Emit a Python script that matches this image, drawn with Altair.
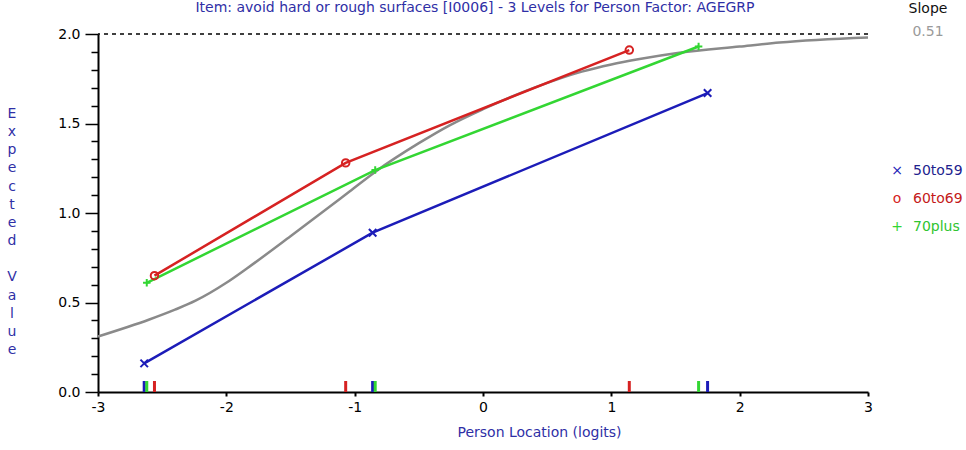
import altair as alt
import pandas as pd

# ---------------- data ----------------
title_text = "Item: avoid hard or rough surfaces [I0006] - 3 Levels for Person Factor: AGEGRP"
x_title = "Person Location (logits)"
y_title = "Expected Value"
slope_label = "Slope"
slope_value = "0.51"

groups = ["50to59", "60to69", "70plus"]
line_colors = ["#1c1cb8", "#d62222", "#33d633"]
label_colors = ["#22228e", "#c41a1a", "#30c430"]
legend_symbols = ["\u00d7", "o", "+"]

x_50to59 = [-2.64, -0.86, 1.75]
y_50to59 = [0.16, 0.89, 1.67]
x_60to69 = [-2.56, -1.07, 1.14]
y_60to69 = [0.65, 1.28, 1.91]
x_70plus = [-2.62, -0.84, 1.68]
y_70plus = [0.61, 1.24, 1.93]

icc_x = [-3.0, -2.6, -2.4, -2.24, -2.0, -1.84, -1.5, -1.04, -0.83, -0.5, -0.26,
         0.0, 0.4, 0.77, 1.0, 1.22, 1.53, 2.0, 2.31, 3.0]
icc_y = [0.31, 0.405, 0.46, 0.51, 0.61, 0.69, 0.87, 1.12, 1.235, 1.39, 1.49,
         1.58, 1.70, 1.79, 1.83, 1.86, 1.895, 1.93, 1.952, 1.98]

x_ticks = [-3, -2, -1, 0, 1, 2, 3]
y_ticks = [0.0, 0.1, 0.2, 0.3, 0.4, 0.5, 0.6, 0.7, 0.8, 0.9, 1.0,
           1.1, 1.2, 1.3, 1.4, 1.5, 1.6, 1.7, 1.8, 1.9, 2.0]
max_score = [2.0]

# ---------------- tables ----------------
grp_rows = []
for g, xs, ys in zip(groups, [x_50to59, x_60to69, x_70plus], [y_50to59, y_60to69, y_70plus]):
    for xv, yv in zip(xs, ys):
        grp_rows.append({"group": g, "x": xv, "y": yv})
grp_df = pd.DataFrame(grp_rows)
icc_df = pd.DataFrame({"x": icc_x, "y": icc_y})
legend_df = pd.DataFrame({"group": groups, "sym": legend_symbols, "lc": label_colors})
ytitle_df = pd.DataFrame({"i": list(range(len(y_title))), "ch": list(y_title)})

FONT = "DejaVu Sans"
BLUE_TXT = "#2f2fa6"

xscale = alt.Scale(domain=[-3, 3], nice=False)
yscale = alt.Scale(domain=[0, 2], nice=False)
cscale = alt.Scale(domain=groups, range=line_colors)

major = "round(datum.value*10) % 5 == 0"
x_axis = alt.Axis(values=x_ticks, labelExpr="'' + datum.value", title=x_title,
                  titleX=441, titleY=40, titleAlign="center", titleBaseline="middle",
                  titleColor=BLUE_TXT, titleFont=FONT, titleFontSize=14, titleFontWeight="normal",
                  labelFont=FONT, labelFontSize=14, labelColor="black", labelPadding=4,
                  tickSize=4, tickWidth=2, tickColor="black", domainColor="black", domainWidth=2,
                  grid=False, labelFlush=False, labelOverlap=False)
y_axis = alt.Axis(values=y_ticks, labelExpr=major + " ? format(datum.value, '.1f') : ''",
                  title=None, labelFont=FONT, labelFontSize=14, labelColor="black", labelPadding=5,
                  tickSize={"condition": {"test": major, "value": 13}, "value": 7},
                  tickWidth=1.5, tickColor="black", domainColor="black", domainWidth=2,
                  grid=False, labelOverlap=False, labelFlush=False)

X = alt.X("x:Q", scale=xscale, axis=x_axis)
Y = alt.Y("y:Q", scale=yscale, axis=y_axis)

icc = alt.Chart(icc_df).mark_line(color="#8a8a8a", strokeWidth=2.5, interpolate="monotone").encode(x=X, y=Y)

dashed = alt.Chart(pd.DataFrame({"y": max_score})).mark_rule(
    color="black", strokeDash=[4, 4], strokeWidth=1.5).encode(y=Y)

lines = alt.Chart(grp_df).mark_line(strokeWidth=2.5).encode(
    x=X, y=Y, color=alt.Color("group:N", scale=cscale, legend=None))

points = alt.Chart(grp_df).mark_point(filled=False, strokeWidth=2, size=56, opacity=1).encode(
    x=X, y=Y,
    color=alt.Color("group:N", scale=cscale, legend=None),
    shape=alt.Shape("group:N", legend=None, scale=alt.Scale(
        domain=groups, range=["M-1,-1L1,1M-1,1L1,-1", "circle", "M-1,0L1,0M0,-1L0,1"])))

rugs = alt.Chart(grp_df).mark_rule(strokeWidth=3).encode(
    x=X, y=alt.value(347), y2=alt.value(358),
    color=alt.Color("group:N", scale=cscale, legend=None))

title_mark = alt.Chart(pd.DataFrame({"t": [title_text]})).mark_text(
    font=FONT, fontSize=14, color=BLUE_TXT, align="center", baseline="alphabetic").encode(
    text="t:N", x=alt.value(377), y=alt.value(-22.5))

slope_lab = alt.Chart(pd.DataFrame({"t": [slope_label]})).mark_text(
    font=FONT, fontSize=14, color="#111111", align="center", baseline="alphabetic").encode(
    text="t:N", x=alt.value(830), y=alt.value(-21))
slope_val = alt.Chart(pd.DataFrame({"t": [slope_value]})).mark_text(
    font=FONT, fontSize=14, color="#9a9a9a", align="center", baseline="alphabetic").encode(
    text="t:N", x=alt.value(830), y=alt.value(2))

main = alt.layer(icc, dashed, lines, points, rugs, title_mark, slope_lab, slope_val)

LY = alt.Y("group:N", axis=None, scale=alt.Scale(type="point", domain=groups, range=[137, 193], padding=0))
leg_sym = alt.Chart(legend_df).mark_text(font=FONT, fontSize=14, align="center",
                                         baseline="middle").encode(
    text="sym:N", y=LY, x=alt.value(799),
    color=alt.Color("group:N", scale=cscale, legend=None))
leg_lab = alt.Chart(legend_df).mark_text(font=FONT, fontSize=14, align="left", baseline="middle").encode(
    text="group:N", y=LY, x=alt.value(815), color=alt.Color("lc:N", scale=None))
legend = alt.layer(leg_sym, leg_lab)

ytitle_mark = alt.Chart(ytitle_df).mark_text(
    font=FONT, fontSize=14, color=BLUE_TXT, align="center", baseline="middle").encode(
    text="ch:N", x=alt.value(-86),
    y=alt.Y("i:O", axis=None, scale=alt.Scale(type="point", range=[80, 316], padding=0)))

chart = alt.layer(main, legend, ytitle_mark).resolve_scale(y="independent").properties(
    width=770, height=358,
    autosize=alt.AutoSizeParams(type="none"),
    padding={"left": 98, "top": 34, "right": 98, "bottom": 58},
    background="white",
).configure_view(stroke=None)

chart.save("out.html", embed_options={"renderer": "svg", "actions": False})
